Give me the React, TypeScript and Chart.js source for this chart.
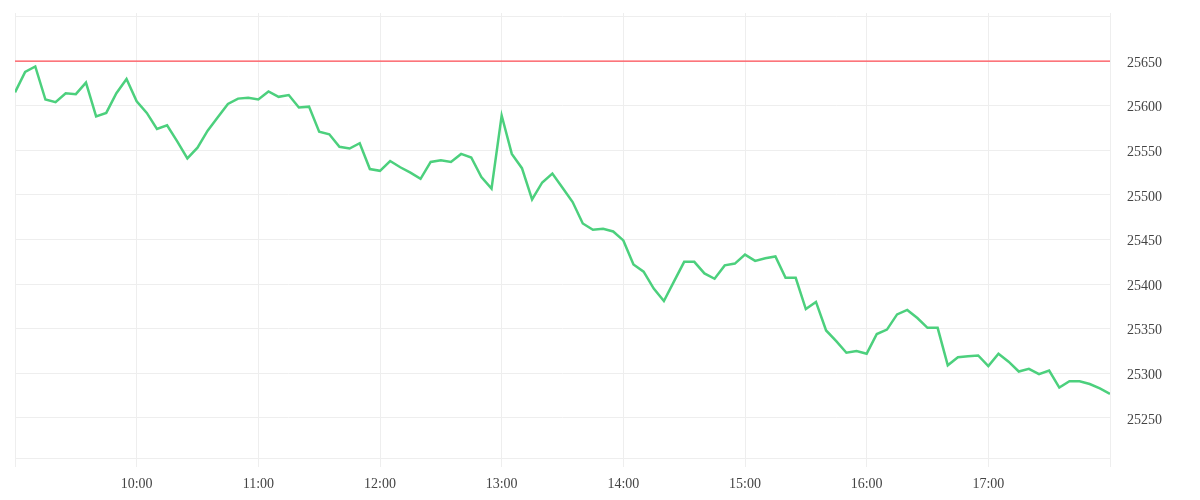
import { useEffect, useRef } from "react";
import { Chart, registerables } from "chart.js";

Chart.register(...registerables);

// minutes since midnight, one point every 5 minutes from 9:00 to 18:00
const startMinute = 540;
const stepMinutes = 5;

const prices = [
  25615, 25638, 25644, 25607, 25604, 25614, 25613, 25626, 25588, 25592, 25614, 25630,
  25605, 25592, 25574, 25578, 25560, 25541, 25553, 25572, 25587, 25602, 25608, 25609,
  25607, 25616, 25610, 25612, 25598, 25599, 25571, 25568, 25554, 25552, 25558, 25529,
  25527, 25538, 25531, 25525, 25518, 25537, 25539, 25537, 25546, 25542, 25520, 25507,
  25589, 25546, 25530, 25495, 25514, 25524, 25508, 25492, 25468, 25461, 25462, 25459,
  25449, 25422, 25414, 25395, 25381, 25403, 25425, 25425, 25412, 25406, 25421, 25423,
  25433, 25426, 25429, 25431, 25407, 25407, 25372, 25380, 25348, 25336, 25323, 25325,
  25322, 25344, 25349, 25366, 25371, 25362, 25351, 25351, 25309, 25318, 25319, 25320,
  25308, 25322, 25313, 25302, 25305, 25299, 25303, 25284, 25291, 25291, 25288, 25283,
  25277,
];

const referencePrice = 25650;
const hourTicks = [540, 600, 660, 720, 780, 840, 900, 960, 1020, 1080];
const priceTicks = [25250, 25300, 25350, 25400, 25450, 25500, 25550, 25600, 25650, 25700];

const gridColor = "#eeeeee";
const font = { family: "'Liberation Serif', serif", size: 14 };

export default function App() {
  const canvasRef = useRef<HTMLCanvasElement>(null);

  useEffect(() => {
    if (!canvasRef.current) return;
    const points = prices.map((p, i) => ({ x: startMinute + i * stepMinutes, y: p }));
    const lastX = startMinute + (prices.length - 1) * stepMinutes;

    const chart = new Chart(canvasRef.current, {
      type: "line",
      data: {
        datasets: [
          {
            label: "price",
            data: points,
            borderColor: "#4cd07d",
            borderWidth: 2.5,
            pointRadius: 0,
            tension: 0,
          },
          {
            label: "ref",
            data: [
              { x: startMinute, y: referencePrice },
              { x: lastX, y: referencePrice },
            ],
            borderColor: "#ff4d55",
            borderWidth: 1.2,
            pointRadius: 0,
          },
        ],
      },
      options: {
        animation: false,
        responsive: true,
        maintainAspectRatio: false,
        layout: { padding: { left: 7, top: 0, right: 0, bottom: 0 } },
        plugins: {
          legend: { display: false },
          tooltip: { enabled: false },
        },
        scales: {
          x: {
            type: "linear",
            min: 540,
            max: 1080,
            afterBuildTicks: (scale: any) => {
              scale.ticks = hourTicks.map((v) => ({ value: v }));
            },
            afterFit: (scale: any) => {
              scale.height = 34;
              scale.paddingLeft = 0;
              scale.paddingRight = 0;
            },
            grid: { color: gridColor, tickLength: 9 },
            border: { color: gridColor },
            ticks: {
              color: "#444",
              font,
              padding: 9,
              maxRotation: 0,
              autoSkip: false,
              callback: (v: any) => {
                if (v === 540 || v === 1080) return "";
                return `${Math.floor(v / 60)}:00`;
              },
            },
          },
          y: {
            position: "right",
            min: 25205,
            max: 25704,
            afterBuildTicks: (scale: any) => {
              scale.ticks = priceTicks.map((v) => ({ value: v }));
            },
            afterFit: (scale: any) => {
              scale.width = 82;
              scale.paddingTop = 5;
              scale.paddingBottom = 0;
            },
            grid: { color: gridColor, drawTicks: false },
            border: { display: false },
            ticks: {
              color: "#444",
              font,
              padding: 17,
              labelOffset: 2,
              callback: (v: any) => (v === 25700 ? "" : String(v)),
            },
          },
        },
      },
    });

    return () => {
      chart.destroy();
    };
  }, []);

  return (
    <div style={{ width: "100%", height: "484px" }}>
      <canvas ref={canvasRef} />
    </div>
  );
}
